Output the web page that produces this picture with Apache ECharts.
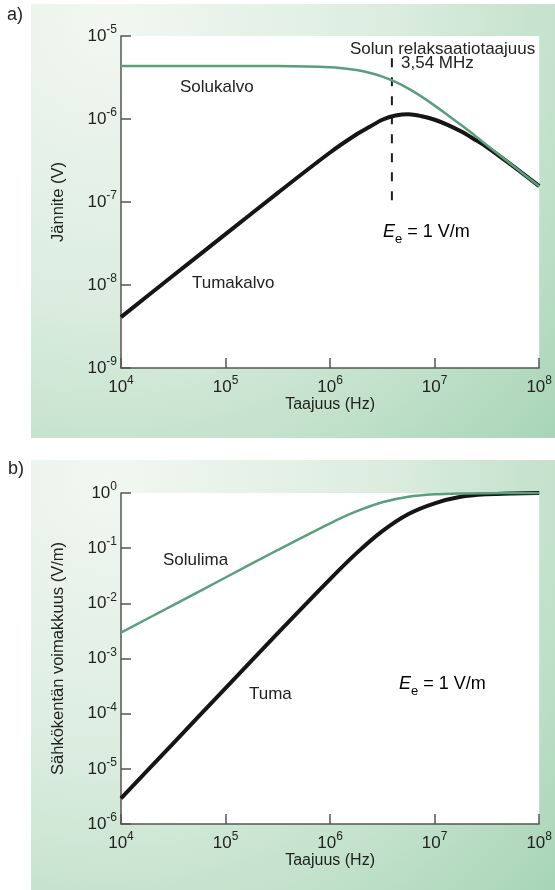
<!DOCTYPE html>
<html>
<head>
<meta charset="utf-8">
<script src="https://cdn.jsdelivr.net/npm/echarts@6/dist/echarts.min.js"></script>
<style>
html, body { margin: 0; padding: 0; background: #fff; }
#chart { width: 555px; height: 890px; }
</style>
</head>
<body>
<div id="chart"></div>
<script>
// a) jännite kalvojen yli
const freqA = [1e4, 3.16e4, 1e5, 3.16e5, 1e6, 1.78e6, 2.37e6, 3.16e6, 4.22e6, 5.62e6, 7.5e6, 1e7, 1.33e7, 1.78e7, 2.37e7, 3.16e7, 5.62e7, 1e8];
const solukalvo = [4.35e-6, 4.35e-6, 4.35e-6, 4.34e-6, 4.19e-6, 3.89e-6, 3.61e-6, 3.24e-6, 2.8e-6, 2.32e-6, 1.86e-6, 1.45e-6, 1.12e-6, 8.5e-7, 6.45e-7, 4.84e-7, 2.73e-7, 1.55e-7];
const tumakalvo = [4.1e-9, 1.3e-8, 4.1e-8, 1.29e-7, 3.95e-7, 6.5e-7, 8.0e-7, 9.8e-7, 1.1e-6, 1.14e-6, 1.08e-6, 9.8e-7, 8.5e-7, 7.1e-7, 5.75e-7, 4.6e-7, 2.7e-7, 1.55e-7];
// relaksaatiotaajuuden katkoviiva
const relaxFreq = 3.9e6;
const relaxRange = [5.4e-6, 1.05e-7];

// b) sähkökentän voimakkuus
const freqB = [1e4, 3.16e4, 1e5, 3.16e5, 1e6, 1.78e6, 3.16e6, 5.62e6, 1e7, 1.78e7, 3.16e7, 5.62e7, 1e8];
const solulima = [2.95e-3, 9.3e-3, 0.0294, 0.0926, 0.282, 0.463, 0.681, 0.856, 0.946, 0.982, 0.994, 0.998, 0.999];
const tuma = [2.9e-6, 2.9e-5, 2.9e-4, 2.88e-3, 0.0275, 0.0804, 0.2035, 0.416, 0.65, 0.854, 0.947, 0.982, 0.995];

const FONT = '"Liberation Sans", Arial, sans-serif';
const TXT = '#222';
const AXIS = '#555';
const GREEN = '#5a9f7b';
const BLACK = '#151515';

function zip (xs, ys) {
  return xs.map(function (x, i) { return [x, ys[i]]; });
}

function powLabel (v) {
  const e = Math.round(Math.log10(v));
  return '{b|10}{s|' + e + '}';
}

const powRich = {
  b: { fontSize: 17, lineHeight: 24, fontFamily: FONT, color: TXT },
  s: { fontSize: 12, lineHeight: 14, verticalAlign: 'top', fontFamily: FONT, color: TXT }
};

function makeX (idx) {
  return {
    type: 'log', logBase: 10, gridIndex: idx,
    min: 1e4, max: 1e8, splitNumber: 4,
    name: 'Taajuus (Hz)', nameLocation: 'middle', nameGap: 29,
    nameTextStyle: { fontSize: 16, fontFamily: FONT, color: TXT },
    axisLine: { lineStyle: { color: AXIS, width: 1.5 } },
    axisTick: { inside: true, length: 10, lineStyle: { color: AXIS, width: 1.5 } },
    minorTick: { show: false },
    splitLine: { show: false },
    axisLabel: { margin: 7, formatter: powLabel, rich: powRich, showMinLabel: true, showMaxLabel: true }
  };
}

function makeY (idx, min, max, name, split) {
  return {
    type: 'log', logBase: 10, gridIndex: idx,
    min: min, max: max, splitNumber: split,
    name: name, nameLocation: 'middle', nameGap: 54,
    nameTextStyle: { fontSize: 16.5, fontFamily: FONT, color: TXT },
    axisLine: { lineStyle: { color: AXIS, width: 1.5 } },
    axisTick: { inside: true, length: 10, lineStyle: { color: AXIS, width: 1.5 } },
    minorTick: { show: false },
    splitLine: { show: false },
    axisLabel: { margin: 4, formatter: powLabel, rich: powRich, showMinLabel: true, showMaxLabel: true }
  };
}

function panelBg (y, h) {
  return {
    type: 'rect', z: -10, silent: true,
    shape: { x: 31, y: y, width: 524, height: h },
    style: {
      fill: new echarts.graphic.RadialGradient(0.15, 0.04, 1.4, [
        { offset: 0, color: '#f2f7f2' },
        { offset: 0.45, color: '#dcede0' },
        { offset: 0.75, color: '#c2e1cb' },
        { offset: 1, color: '#a8d5b7' }
      ])
    }
  };
}

function label (text, x, y, size) {
  return {
    type: 'text', x: x, y: y, z: 10, silent: true,
    style: { text: text, fontSize: size || 17, fontFamily: FONT, fill: TXT, align: 'left', verticalAlign: 'middle' }
  };
}

function fieldLabel (x, y) {
  return {
    type: 'text', x: x, y: y, z: 10, silent: true,
    style: {
      text: '{i|E}{sub|e}{n| = 1 V/m}', align: 'left', verticalAlign: 'middle',
      rich: {
        i: { fontSize: 18, fontStyle: 'italic', lineHeight: 28, fontFamily: FONT, color: TXT },
        sub: { fontSize: 13, lineHeight: 10, verticalAlign: 'bottom', fontFamily: FONT, color: TXT },
        n: { fontSize: 18, lineHeight: 28, fontFamily: FONT, color: TXT }
      }
    }
  };
}

const myChart = echarts.init(document.getElementById('chart'), null, { width: 555, height: 890 });

const option = {
  animation: false,
  backgroundColor: '#fff',
  graphic: [
    panelBg(4, 434),
    panelBg(460, 430),
    label('a)', 7, 15, 18),
    label('b)', 8, 469, 18),
    label('Solun relaksaatiotaajuus', 350, 49),
    label('3,54 MHz', 401, 63),
    label('Solukalvo', 180, 87),
    label('Tumakalvo', 192, 283),
    fieldLabel(383, 232),
    label('Solulima', 163, 560),
    label('Tuma', 249, 694),
    fieldLabel(399, 684)
  ],
  grid: [
    { left: 121, top: 36, width: 422, height: 332, show: true, backgroundColor: '#fff', borderWidth: 0 },
    { left: 121, top: 493, width: 422, height: 331, show: true, backgroundColor: '#fff', borderWidth: 0 }
  ],
  xAxis: [makeX(0), makeX(1)],
  yAxis: [
    makeY(0, 1e-9, 1e-5, 'Jännite (V)', 4),
    makeY(1, 1e-6, 1, 'Sähkökentän voimakkuus (V/m)', 6)
  ],
  series: [
    {
      type: 'line', xAxisIndex: 0, yAxisIndex: 0, z: 3,
      data: [[relaxFreq, relaxRange[0]], [relaxFreq, relaxRange[1]]],
      symbol: 'none', lineStyle: { color: '#1e1e1e', width: 2, type: [9, 10], opacity: 1 }
    },
    {
      name: 'Tumakalvo', type: 'line', xAxisIndex: 0, yAxisIndex: 0,
      data: zip(freqA, tumakalvo), symbol: 'none', smooth: 0.3,
      lineStyle: { color: BLACK, width: 4 }
    },
    {
      name: 'Solukalvo', type: 'line', xAxisIndex: 0, yAxisIndex: 0,
      data: zip(freqA, solukalvo), symbol: 'none', smooth: 0.3,
      lineStyle: { color: GREEN, width: 2.5 }
    },
    {
      name: 'Tuma', type: 'line', xAxisIndex: 1, yAxisIndex: 1,
      data: zip(freqB, tuma), symbol: 'none', smooth: 0.3,
      lineStyle: { color: BLACK, width: 4 }
    },
    {
      name: 'Solulima', type: 'line', xAxisIndex: 1, yAxisIndex: 1,
      data: zip(freqB, solulima), symbol: 'none', smooth: 0.3,
      lineStyle: { color: GREEN, width: 2.5 }
    }
  ]
};

myChart.setOption(option);
</script>
</body>
</html>
